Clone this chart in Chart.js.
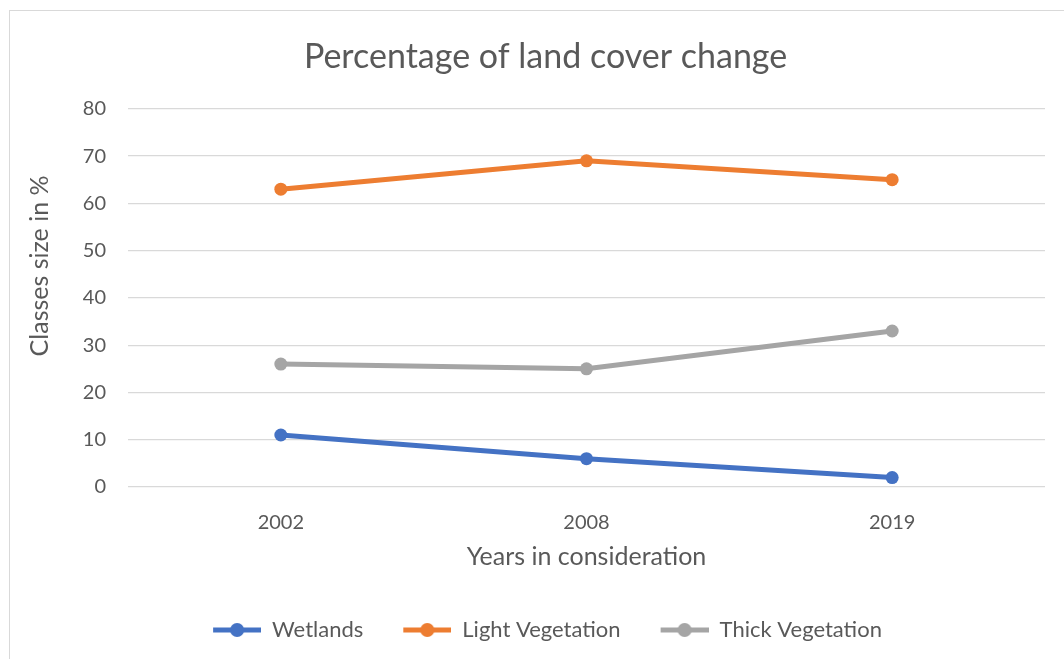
<!DOCTYPE html>
<html>
<head>
<meta charset="utf-8">
<script src="https://cdn.jsdelivr.net/npm/chart.js@4.4.0/dist/chart.umd.min.js"></script>
<style>
  html, body { margin: 0; padding: 0; background: #fff; }
  #wrap { width: 1064px; height: 659px; }
</style>
</head>
<body>
<div id="wrap"><canvas id="chart" width="1064" height="659"></canvas></div>
<script>
const years = ['2002', '2008', '2019'];
const wetlands = [11, 6, 2];
const lightVeg = [63, 69, 65];
const thickVeg = [26, 25, 33];
const yTicks = [0, 10, 20, 30, 40, 50, 60, 70, 80];

const textColor = '#595959';
const fontFamily = 'Lato, "Open Sans", sans-serif';

// legend marker: short line with a dot, blank space on the left acts as item spacing
function legendMarker(color) {
  const c = document.createElement('canvas');
  c.width = 78; c.height = 16;
  const g = c.getContext('2d');
  g.strokeStyle = color;
  g.lineWidth = 5;
  g.beginPath();
  g.moveTo(30, 8);
  g.lineTo(78, 8);
  g.stroke();
  g.fillStyle = color;
  g.beginPath();
  g.arc(54, 8, 7, 0, Math.PI * 2);
  g.fill();
  return c;
}

const frame = {
  id: 'frame',
  beforeDraw(chart) {
    const ctx = chart.ctx;
    ctx.save();
    ctx.fillStyle = '#fff';
    ctx.fillRect(0, 0, chart.width, chart.height);
    ctx.strokeStyle = '#d9d9d9';
    ctx.lineWidth = 1;
    ctx.strokeRect(9.5, 10.5, 1200, 800);
    ctx.restore();
  }
};

function series(label, data, color) {
  return {
    label: label,
    data: data,
    borderColor: color,
    backgroundColor: color,
    borderWidth: 5,
    pointRadius: 6.5,
    pointHoverRadius: 6.5,
    pointBorderWidth: 0,
    pointStyle: 'circle',
    tension: 0
  };
}

new Chart(document.getElementById('chart'), {
  type: 'line',
  data: {
    labels: years,
    datasets: [
      series('Wetlands', wetlands, '#4472C4'),
      series('Light Vegetation', lightVeg, '#ED7D31'),
      series('Thick Vegetation', thickVeg, '#A5A5A5')
    ]
  },
  options: {
    responsive: false,
    animation: false,
    layout: { padding: { left: 20, right: 19, top: 0, bottom: 8 } },
    scales: {
      x: {
        offset: true,
        grid: { display: false, drawTicks: false },
        border: { display: false },
        ticks: { color: textColor, font: { family: fontFamily, size: 20 }, padding: 24 },
        title: {
          display: true,
          text: 'Years in consideration',
          color: textColor,
          font: { family: fontFamily, size: 25 },
          padding: { top: 0, bottom: 37 }
        },
        afterFit(scale) { scale.height = 122; }
      },
      y: {
        min: 0,
        max: 80,
        afterBuildTicks(scale) { scale.ticks = yTicks.map(v => ({ value: v })); },
        grid: { color: '#d9d9d9', lineWidth: 1.3, drawTicks: false },
        border: { display: false },
        ticks: { color: textColor, font: { family: fontFamily, size: 20 }, padding: 22 },
        title: {
          display: true,
          // leading spaces nudge the title up, as in the original
          text: '          Classes size in %',
          color: textColor,
          font: { family: fontFamily, size: 25 },
          padding: { top: 5, bottom: 0 }
        },
        afterFit(scale) { scale.width = 108; }
      }
    },
    plugins: {
      title: {
        display: true,
        text: '   Percentage of land cover change',
        color: textColor,
        font: { family: fontFamily, size: 34, weight: 'normal' },
        padding: { top: 37, bottom: 31 }
      },
      legend: {
        position: 'bottom',
        labels: {
          color: textColor,
          font: { family: fontFamily, size: 22 },
          usePointStyle: true,
          pointStyleWidth: 78,
          padding: 10,
          generateLabels(chart) {
            return Chart.defaults.plugins.legend.labels.generateLabels(chart).map(item => {
              item.pointStyle = legendMarker(chart.data.datasets[item.datasetIndex].borderColor);
              return item;
            });
          }
        }
      },
      tooltip: { enabled: false }
    }
  },
  plugins: [frame]
});
</script>
</body>
</html>
